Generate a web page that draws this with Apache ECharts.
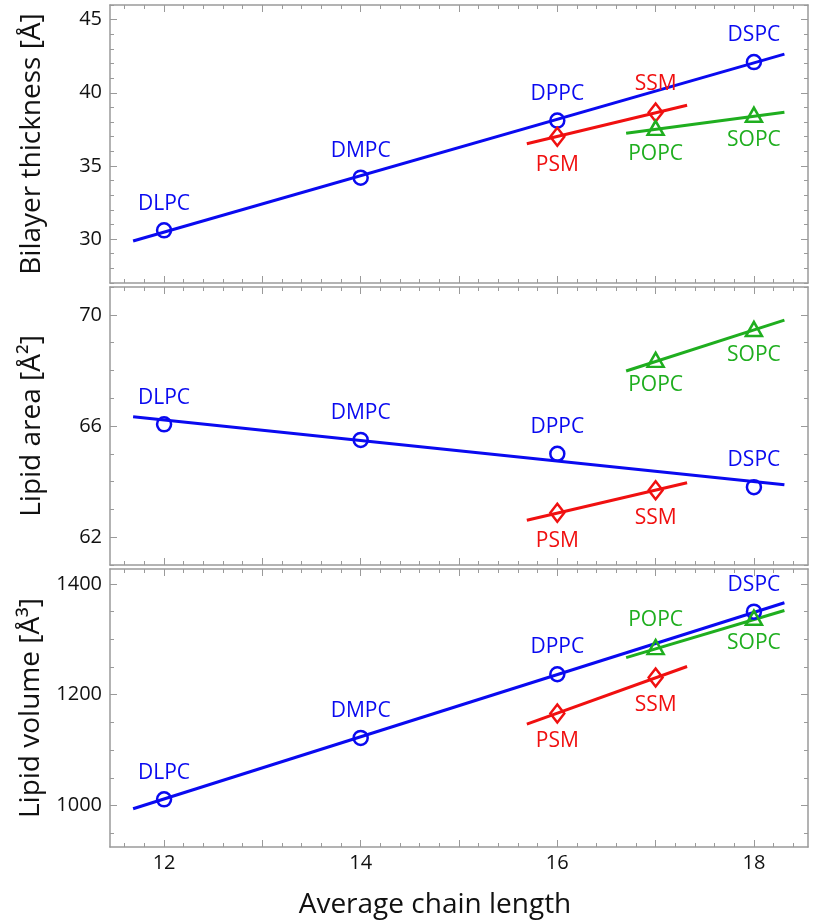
<!DOCTYPE html>
<html>
<head>
<meta charset="utf-8">
<script src="https://cdn.jsdelivr.net/npm/echarts@6/dist/echarts.min.js"></script>
<style>
html,body{margin:0;padding:0;background:#fff;}
#chart{width:813px;height:924px;}
</style>
</head>
<body>
<div id="chart"></div>
<script>
// ---- data ----
const pcNames = ['DLPC', 'DMPC', 'DPPC', 'DSPC'];
const pcChain = [12, 14, 16, 18];
const smNames = ['PSM', 'SSM'];
const smChain = [16, 17];
const ocNames = ['POPC', 'SOPC'];
const ocChain = [17, 18];

const pcThickness = [30.6, 34.2, 38.1, 42.1];
const smThickness = [37.0, 38.65];
const ocThickness = [37.6, 38.5];

const pcArea = [66.06, 65.5, 65.0, 63.8];
const smArea = [62.88, 63.69];
const ocArea = [68.38, 69.49];

const pcVolume = [1011, 1122, 1237, 1350];
const smVolume = [1166, 1231];
const ocVolume = [1286, 1339];

// fitted line end points (x and y)
const pcFitX = [11.685, 18.31];
const smFitX = [15.69, 17.32];
const ocFitX = [16.70, 18.31];
const pcFitThickness = [29.87, 42.64];
const smFitThickness = [36.52, 39.15];
const ocFitThickness = [37.24, 38.67];
const pcFitArea = [66.33, 63.89];
const smFitArea = [62.61, 63.96];
const ocFitArea = [67.98, 69.81];
const pcFitVolume = [994, 1366];
const smFitVolume = [1147, 1251];
const ocFitVolume = [1267, 1352];

// axis ticks
const xTickLabels = [12, 14, 16, 18];
const xMajorTicks = [12, 13, 14, 15, 16, 17, 18];
const thicknessTickLabels = [30, 35, 40, 45];
const areaTickLabels = [62, 66, 70];
const volumeTickLabels = [1000, 1200, 1400];

// ---- styles ----
const BLUE = '#0a0af0', RED = '#f01010', GREEN = '#1fae1f';
const FRAME = '#9a9a9a';
const FONT = 'Open Sans';

function range(a, b, step) { const r = []; for (let v = a; v <= b + 1e-9; v += step) r.push(Math.round(v * 1000) / 1000); return r; }
const xMinorTicks = range(11.6, 18.4, 0.2);
const plain = v => String(v);

const panels = [
  { name: 'Bilayer thickness [Å]', min: 27, max: 46, labels: thicknessTickLabels, major: thicknessTickLabels, minor: range(27, 46, 1),
    pc: pcThickness, sm: smThickness, oc: ocThickness, pcFit: pcFitThickness, smFit: smFitThickness, ocFit: ocFitThickness,
    pcPos: ['top','top','top','top'], smPos: ['bottom','top'], ocPos: ['bottom','bottom'] },
  { name: 'Lipid area [Å²]', min: 61, max: 71, labels: areaTickLabels, major: areaTickLabels, minor: range(61, 71, 1),
    pc: pcArea, sm: smArea, oc: ocArea, pcFit: pcFitArea, smFit: smFitArea, ocFit: ocFitArea,
    pcPos: ['top','top','top','top'], smPos: ['bottom','bottom'], ocPos: ['bottom','bottom'] },
  { name: 'Lipid volume [Å³]', min: 925, max: 1427, labels: volumeTickLabels, major: volumeTickLabels, minor: range(950, 1400, 50),
    pc: pcVolume, sm: smVolume, oc: ocVolume, pcFit: pcFitVolume, smFit: smFitVolume, ocFit: ocFitVolume,
    pcPos: ['top','top','top','top'], smPos: ['bottom','bottom'], ocPos: ['top','bottom'] }
];

const grids = [], xAxes = [], yAxes = [], series = [];
const tops = [5, 287, 569];
const H = 278;

panels.forEach((p, g) => {
  grids.push({ left: 110, right: 5, top: tops[g], height: H });
  const last = g === 2;
  const baseX = { type: 'value', gridIndex: g, min: 11.45, max: 18.55, splitLine: { show: false } };
  xAxes.push(Object.assign({}, baseX, {
    position: 'bottom',
    axisLine: { show: true, lineStyle: { color: FRAME, width: 1.5 } },
    axisTick: { show: true, inside: true, length: 7, customValues: xMajorTicks, lineStyle: { color: FRAME, width: 1 } },
    axisLabel: { show: last, customValues: xTickLabels, formatter: plain, margin: 6, fontFamily: FONT, fontSize: 20, color: '#111' },
    name: last ? 'Average chain length' : '', nameLocation: 'middle', nameGap: 44,
    nameTextStyle: { fontFamily: FONT, fontSize: 28, color: '#111', padding: [0, 48, 0, 0] }
  }));
  xAxes.push(Object.assign({}, baseX, {
    position: 'bottom', axisLine: { show: false },
    axisTick: { show: true, inside: true, length: 4, customValues: xMinorTicks, lineStyle: { color: FRAME, width: 1 } },
    axisLabel: { show: false }
  }));
  xAxes.push(Object.assign({}, baseX, {
    position: 'top',
    axisLine: { show: true, lineStyle: { color: FRAME, width: 1.5 } },
    axisTick: { show: true, inside: true, length: 7, customValues: xMajorTicks, lineStyle: { color: FRAME, width: 1 } },
    axisLabel: { show: false }
  }));
  xAxes.push(Object.assign({}, baseX, {
    position: 'top', axisLine: { show: false },
    axisTick: { show: true, inside: true, length: 4, customValues: xMinorTicks, lineStyle: { color: FRAME, width: 1 } },
    axisLabel: { show: false }
  }));

  const baseY = { type: 'value', gridIndex: g, min: p.min, max: p.max, splitLine: { show: false } };
  yAxes.push(Object.assign({}, baseY, {
    position: 'left',
    axisLine: { show: true, lineStyle: { color: FRAME, width: 1.5 } },
    axisTick: { show: true, inside: true, length: 7, customValues: p.major, lineStyle: { color: FRAME, width: 1 } },
    axisLabel: { show: true, customValues: p.labels, formatter: plain, margin: 8, fontFamily: FONT, fontSize: 20, color: '#111' },
    name: p.name, nameLocation: 'middle', nameGap: 64,
    nameTextStyle: { fontFamily: FONT, fontSize: 28, color: '#111' }
  }));
  yAxes.push(Object.assign({}, baseY, {
    position: 'left', axisLine: { show: false },
    axisTick: { show: true, inside: true, length: 4, customValues: p.minor, lineStyle: { color: FRAME, width: 1 } },
    axisLabel: { show: false }
  }));
  yAxes.push(Object.assign({}, baseY, {
    position: 'right',
    axisLine: { show: true, lineStyle: { color: FRAME, width: 1.5 } },
    axisTick: { show: true, inside: true, length: 7, customValues: p.major, lineStyle: { color: FRAME, width: 1 } },
    axisLabel: { show: false }
  }));
  yAxes.push(Object.assign({}, baseY, {
    position: 'right', axisLine: { show: false },
    axisTick: { show: true, inside: true, length: 4, customValues: p.minor, lineStyle: { color: FRAME, width: 1 } },
    axisLabel: { show: false }
  }));

  const xi = 4 * g, yi = 4 * g;
  const groups = [
    { chain: pcChain, names: pcNames, vals: p.pc, fitX: pcFitX, fitY: p.pcFit, pos: p.pcPos, color: BLUE, symbol: 'circle', size: 14 },
    { chain: smChain, names: smNames, vals: p.sm, fitX: smFitX, fitY: p.smFit, pos: p.smPos, color: RED, symbol: 'diamond', size: [14, 18] },
    { chain: ocChain, names: ocNames, vals: p.oc, fitX: ocFitX, fitY: p.ocFit, pos: p.ocPos, color: GREEN, symbol: 'triangle', size: [16, 14] }
  ];
  groups.forEach(gr => {
    series.push({
      type: 'line', xAxisIndex: xi, yAxisIndex: yi, symbol: 'none', silent: true, z: 2,
      data: gr.fitX.map((x, i) => [x, gr.fitY[i]]),
      lineStyle: { color: gr.color, width: 3 }
    });
    series.push({
      type: 'scatter', xAxisIndex: xi, yAxisIndex: yi, symbol: gr.symbol, symbolSize: gr.size, z: 3,
      itemStyle: { color: 'rgba(255,255,255,0)', borderColor: gr.color, borderWidth: 2.5, opacity: 1 },
      data: gr.chain.map((x, i) => ({
        name: gr.names[i], value: [x, gr.vals[i]],
        label: { position: gr.pos[i], distance: gr.pos[i] === 'top' ? 8 : 7 }
      })),
      label: { show: true, formatter: '{b}', color: gr.color, fontFamily: FONT, fontSize: 21 }
    });
  });
});

const chart = echarts.init(document.getElementById('chart'), null, { renderer: 'canvas' });
chart.setOption({
  animation: false,
  backgroundColor: '#fff',
  grid: grids,
  xAxis: xAxes,
  yAxis: yAxes,
  series: series
});
</script>
</body>
</html>
